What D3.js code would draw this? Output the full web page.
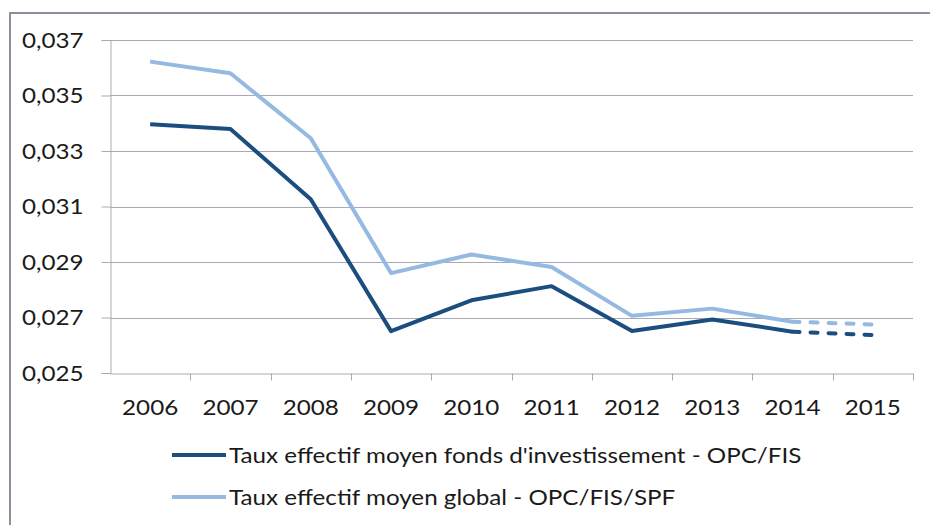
<!DOCTYPE html>
<html>
<head>
<meta charset="utf-8">
<script src="https://cdn.jsdelivr.net/npm/d3@7"></script>
<style>
  body { margin: 0; background: #fff; }
  svg text { font-family: Lato, "Open Sans", sans-serif; fill: #1a1a1a; }
</style>
</head>
<body>
<div id="chart"></div>
<script>
// Data
const years = ["2006", "2007", "2008", "2009", "2010", "2011", "2012", "2013", "2014", "2015"];
const fondsValues = [0.03396, 0.03379, 0.03126, 0.02651, 0.02762, 0.02813, 0.02651, 0.02693, 0.02649, 0.02637];
const globalValues = [0.03622, 0.0358, 0.03346, 0.0286, 0.02927, 0.02882, 0.02706, 0.02732, 0.02685, 0.02675];
const yTicks = [0.025, 0.027, 0.029, 0.031, 0.033, 0.035, 0.037];
const dashedFrom = "2014"; // last segment is an estimate
const seriesNames = [
    "Taux effectif moyen fonds d'investissement - OPC/FIS",
    "Taux effectif moyen global - OPC/FIS/SPF"
];
const seriesColors = ["#1b4e7f", "#95b9e1"];

let width = 930;
let height = 525;
const plot = {left: 110, right: 913, top: 40, bottom: 373};
const stretchX = 1.1; // the original text is a bit wider than Lato

const svg = d3.select("#chart")
    .append("svg")
    .attr("width", width)
    .attr("height", height);

// widen text horizontally around its own anchor
function stretch(sel) {
    sel.each(function() {
        const t = d3.select(this);
        const x0 = +(t.attr("x") || 0);
        t.attr("x", x0 / stretchX).attr("transform", `scale(${stretchX},1)`);
    });
}

// outer frame (runs past the right and bottom edges)
svg.append("rect")
    .attr("x", 10)
    .attr("y", 13)
    .attr("width", width)
    .attr("height", height)
    .attr("fill", "none")
    .attr("stroke", "#8f8f9c")
    .attr("stroke-width", 2);

const x = d3.scaleBand()
    .domain(years)
    .range([plot.left, plot.right]);

const y = d3.scaleLinear()
    .domain([0.025, 0.037])
    .range([plot.bottom, plot.top]);

const fr = d3.formatLocale({decimal: ",", thousands: " ", grouping: [3], currency: ["", "€"]});
const fmt = fr.format(".3f");

// gridlines
svg.append("g")
    .selectAll("line")
    .data(yTicks.slice(1))
    .join("line")
    .attr("x1", plot.left)
    .attr("x2", plot.right)
    .attr("y1", d => Math.round(y(d)) + 0.5)
    .attr("y2", d => Math.round(y(d)) + 0.5)
    .attr("stroke", "#a9a9b6")
    .attr("stroke-width", 1);

// y axis
const yAxis = svg.append("g")
    .attr("transform", `translate(${plot.left + 0.5},0)`)
    .call(d3.axisLeft(y).tickValues(yTicks).tickFormat(fmt).tickSize(9).tickPadding(18));
yAxis.selectAll("text").style("font-size", "22px").call(stretch);

// x axis, ticks between categories
const xAxis = svg.append("g")
    .attr("transform", `translate(0,${Math.round(plot.bottom) + 0.5})`)
    .call(d3.axisBottom(x).tickSize(0).tickPadding(26));
xAxis.selectAll("text").style("font-size", "22px").call(stretch);
xAxis.selectAll(".sep")
    .data(years.slice(1).concat(["end"]))
    .join("line")
    .attr("class", "sep")
    .attr("x1", (d, i) => Math.round(plot.left + x.step() * (i + 1)) + 0.5)
    .attr("x2", (d, i) => Math.round(plot.left + x.step() * (i + 1)) + 0.5)
    .attr("y1", 0)
    .attr("y2", 7)
    .attr("stroke", "#a9a9b6");

svg.selectAll(".domain, .tick line").attr("stroke", "#a9a9b6");

const cx = d => x(d) + x.bandwidth() / 2;
const cut = years.indexOf(dashedFrom);

[fondsValues, globalValues].reverse().forEach((vals, k) => {
    const color = seriesColors[1 - k];
    const pts = years.map((yr, i) => [cx(yr), y(vals[i])]);
    const line = d3.line();
    svg.append("path")
        .attr("d", line(pts.slice(0, cut + 1)))
        .attr("fill", "none")
        .attr("stroke", color)
        .attr("stroke-width", 4)
        .attr("stroke-linejoin", "round");
    svg.append("path")
        .attr("d", line(pts.slice(cut)))
        .attr("fill", "none")
        .attr("stroke", color)
        .attr("stroke-width", 4)
        .attr("stroke-linecap", "round")
        .attr("stroke-dasharray", "7,11");
});

// legend
const legend = svg.append("g");
seriesNames.forEach((name, i) => {
    const ly = 455 + i * 42;
    legend.append("line")
        .attr("x1", 172)
        .attr("x2", 226)
        .attr("y1", ly)
        .attr("y2", ly)
        .attr("stroke", seriesColors[i])
        .attr("stroke-width", 4);
    legend.append("text")
        .attr("x", 229)
        .attr("y", ly)
        .attr("dy", "0.35em")
        .style("font-size", "22px")
        .text(name)
        .call(stretch);
});
</script>
</body>
</html>
